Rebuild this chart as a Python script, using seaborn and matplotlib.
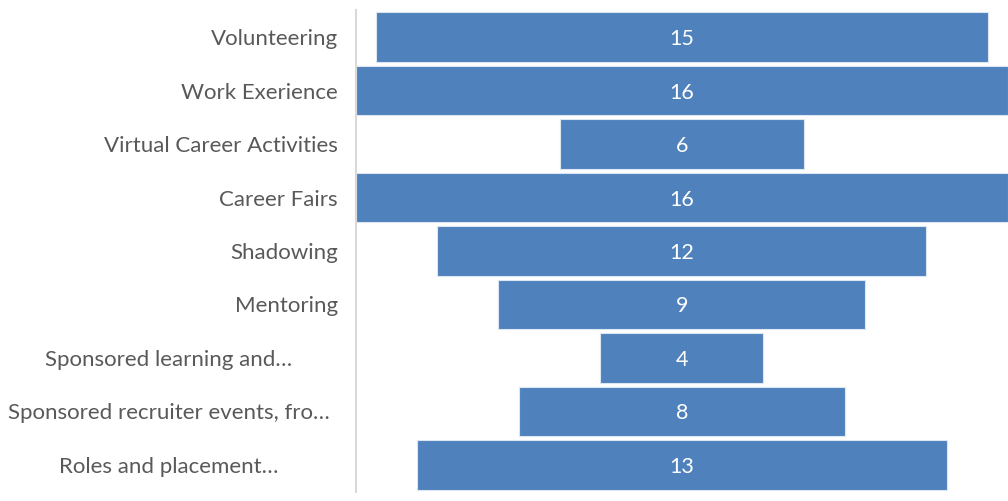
import matplotlib
matplotlib.use("Agg")
import matplotlib.pyplot as plt
import matplotlib.transforms as mtransforms
import seaborn as sns
import pandas as pd

categories = [
    "Volunteering",
    "Work Exerience",
    "Virtual Career Activities",
    "Career Fairs",
    "Shadowing",
    "Mentoring",
    "Sponsored learning and…",
    "Sponsored recruiter events, fro…",
    "Roles and placement…",
]
counts = [15, 16, 6, 16, 12, 9, 4, 8, 13]

df = pd.DataFrame({"activity": categories, "count": counts})

sns.set_theme(style="white")
plt.rcParams["font.family"] = ["Lato", "DejaVu Sans"]

fig = plt.figure(figsize=(10.08, 5.01), dpi=100)
ax = fig.add_axes([0.353, 0.0185, 0.647, 0.961])

sns.barplot(data=df, x="count", y="activity", orient="h", color="#4F81BD",
            saturation=1, width=0.93, edgecolor="#DCE6F2", linewidth=0.8, ax=ax)

# centre every bar on zero to form a funnel
for patch, v in zip(ax.patches, counts):
    patch.set_x(-v / 2)
    ax.text(0, patch.get_y() + patch.get_height() / 2, f"{v}",
            ha="center", va="center_baseline", color="white", fontsize=15.5)

m = max(counts) / 2
ax.set_xlim(-m, m)
ax.set_ylim(len(categories) - 0.5, -0.5)
ax.set_xlabel("")
ax.set_ylabel("")
ax.set_xticks([])
ax.tick_params(axis="y", length=0, pad=13, labelsize=16, labelcolor="#595959")

# truncated (wrapped) category names sit centred in the label column
label_tf = mtransforms.blended_transform_factory(fig.transFigure, ax.transData)
for i, (lbl, name) in enumerate(zip(ax.get_yticklabels(), categories)):
    if name.endswith("…"):
        lbl.set_visible(False)
        ax.text(0.1675, i, name, transform=label_tf, ha="center",
                va="center_baseline", fontsize=16, color="#595959")

for s in ["top", "right", "bottom"]:
    ax.spines[s].set_visible(False)
ax.spines["left"].set_color("#D9D9D9")
ax.spines["left"].set_linewidth(1.5)

fig.savefig("out.png", dpi=100)
